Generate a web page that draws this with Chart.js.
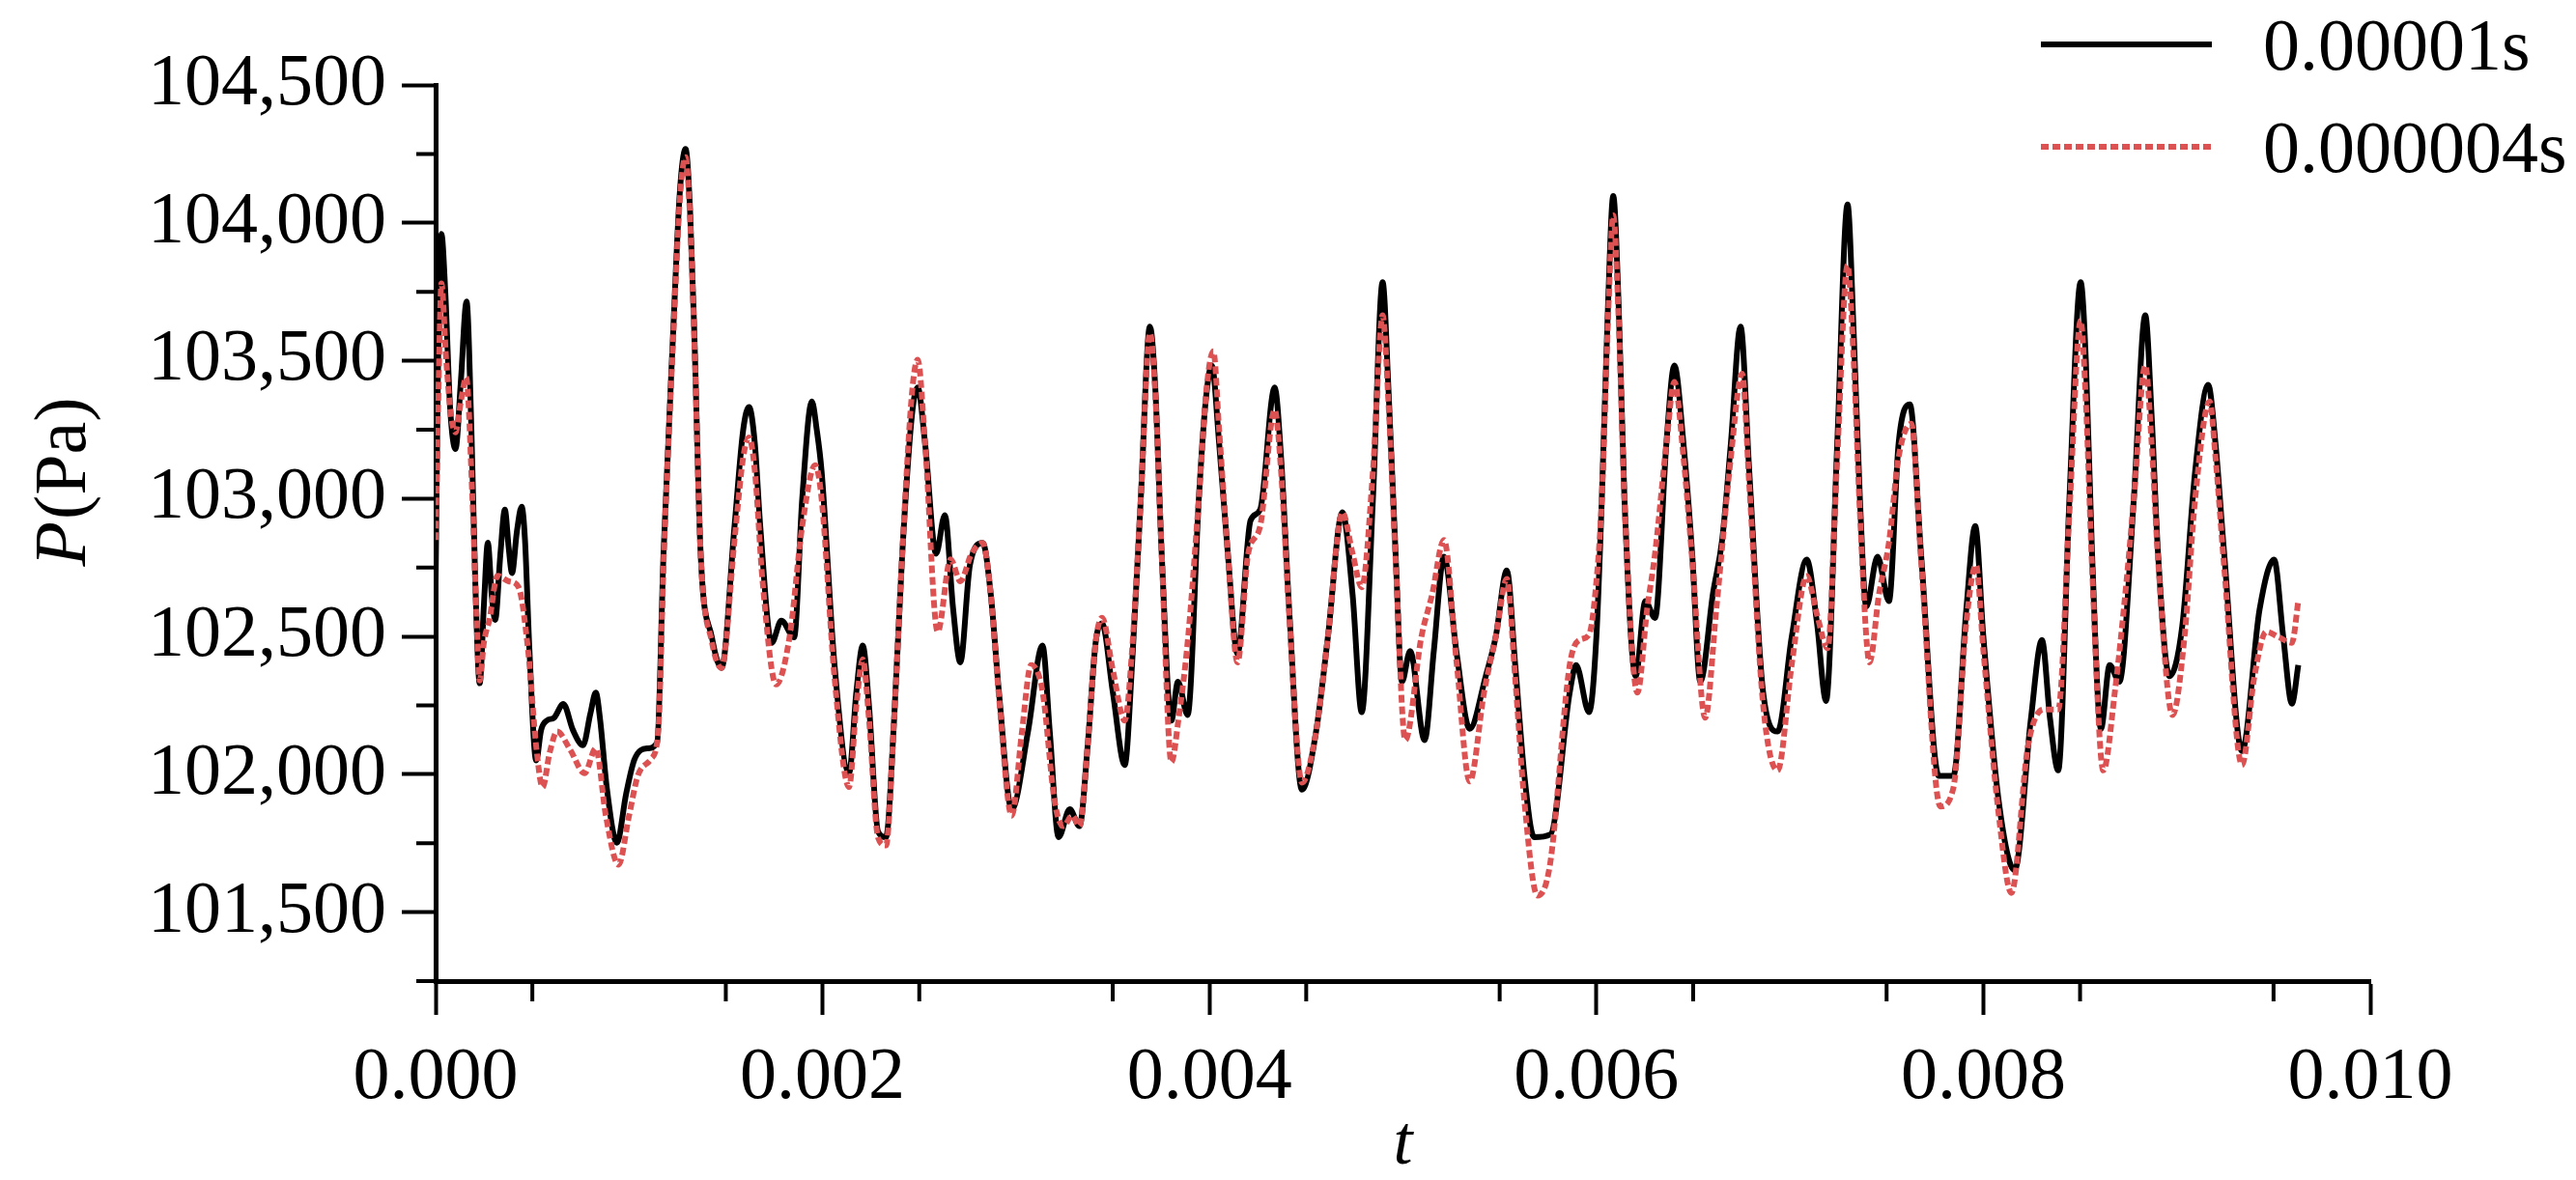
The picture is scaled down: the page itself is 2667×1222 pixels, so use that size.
<!DOCTYPE html>
<html>
<head>
<meta charset="utf-8">
<script src="https://cdn.jsdelivr.net/npm/chart.js@4.4.1/dist/chart.umd.min.js"></script>
<style>
  html, body { margin: 0; padding: 0; background: #fff; }
  #wrap { width: 2667px; height: 1222px; }
</style>
</head>
<body>
<div id="wrap"><canvas id="chart" width="2667" height="1222"></canvas></div>
<script>
// time step 0.00001s (black solid) - t in ms, P in Pa
const tCoarse = [
  0.000, 0.012, 0.030, 0.050, 0.075, 0.103, 0.130, 0.160, 0.185, 0.205,
  0.228, 0.250, 0.270, 0.290, 0.308, 0.335, 0.358, 0.378, 0.395, 0.420,
  0.445, 0.462, 0.485, 0.520, 0.545, 0.575, 0.612, 0.660, 0.710, 0.762,
  0.800, 0.828, 0.850, 0.885, 0.937, 0.985, 1.028, 1.095, 1.145, 1.178,
  1.228, 1.262, 1.292, 1.315, 1.337, 1.370, 1.428, 1.478, 1.545, 1.590,
  1.620, 1.650, 1.678, 1.737, 1.787, 1.853, 1.895, 1.945, 1.970, 1.995,
  2.062, 2.137, 2.175, 2.208, 2.240, 2.287, 2.328, 2.370, 2.412, 2.462,
  2.492, 2.530, 2.587, 2.632, 2.675, 2.712, 2.762, 2.828, 2.870, 2.912,
  2.978, 3.062, 3.137, 3.175, 3.220, 3.278, 3.328, 3.370, 3.412, 3.445,
  3.500, 3.562, 3.600, 3.645, 3.692, 3.720, 3.753, 3.803, 3.837, 3.887,
  3.945, 3.980, 4.012, 4.050, 4.095, 4.145, 4.212, 4.262, 4.337, 4.370,
  4.412, 4.478, 4.550, 4.612, 4.687, 4.740, 4.787, 4.845, 4.895, 4.925,
  4.962, 4.995, 5.037, 5.112, 5.160, 5.212, 5.278, 5.345, 5.428, 5.480,
  5.537, 5.580, 5.628, 5.678, 5.762, 5.862, 5.895, 5.962, 6.000, 6.028,
  6.060, 6.087, 6.115, 6.145, 6.203, 6.253, 6.303, 6.362, 6.403, 6.450,
  6.495, 6.537, 6.603, 6.650, 6.695, 6.745, 6.790, 6.862, 6.937, 7.010,
  7.087, 7.140, 7.187, 7.245, 7.298, 7.330, 7.362, 7.395, 7.453, 7.512,
  7.562, 7.620, 7.678, 7.770, 7.845, 7.912, 7.958, 8.000, 8.080, 8.162,
  8.245, 8.303, 8.345, 8.387, 8.445, 8.503, 8.530, 8.562, 8.608, 8.653,
  8.703, 8.778, 8.837, 8.870, 8.903, 8.962, 9.028, 9.095, 9.162, 9.200,
  9.245, 9.337, 9.428, 9.503, 9.550, 9.595, 9.628
];
const pCoarse = [
  102690, 103450, 103960, 103750, 103330, 103180, 103420, 103715, 103250, 102700,
  102330, 102620, 102840, 102650, 102560, 102800, 102960, 102820, 102730, 102880,
  102970, 102850, 102450, 102050, 102160, 102195, 102205, 102255, 102160, 102105,
  102220, 102296, 102200, 101950, 101752, 101930, 102054, 102094, 102115, 102800,
  103605, 104107, 104268, 104050, 103605, 102800, 102497, 102386, 102900, 103250,
  103332, 103200, 102900, 102477, 102557, 102497, 103000, 103352, 103250, 103100,
  102396, 102004, 102300, 102467, 102250, 101792, 101772, 102200, 102800, 103302,
  103403, 103200, 102800, 102940, 102600, 102406, 102760, 102839, 102650, 102296,
  101873, 102155, 102467, 102150, 101772, 101873, 101812, 102100, 102480, 102547,
  102300, 102034, 102400, 103000, 103624, 103400, 102800, 102195, 102336, 102215,
  103000, 103350, 103483, 103200, 102800, 102437, 102920, 102960, 103403, 103150,
  102598, 101944, 102150, 102497, 102950, 102650, 102225, 103000, 103785, 103400,
  102800, 102336, 102447, 102124, 102450, 102789, 102437, 102165, 102356, 102500,
  102739, 102400, 101994, 101772, 101782, 102296, 102396, 102225, 102500, 103000,
  103700, 104097, 103700, 103000, 102356, 102628, 102567, 103202, 103483, 103200,
  102800, 102336, 102658, 102850, 103200, 103624, 103100, 102296, 102155, 102500,
  102779, 102550, 102266, 103202, 104067, 103600, 103000, 102608, 102789, 102628,
  103200, 103342, 102800, 101994, 101994, 102598, 102900, 102500, 101900, 101652,
  102195, 102487, 102200, 102014, 103000, 103785, 103500, 102800, 102165, 102396,
  102336, 103000, 103665, 103300, 102800, 102356, 102537, 103100, 103413, 103200,
  102800, 102084, 102598, 102779, 102500, 102256, 102396
];

// time step 0.000004s (red dotted)
const tFine = [
  0.000, 0.015, 0.030, 0.055, 0.080, 0.103, 0.130, 0.158, 0.190, 0.210,
  0.228, 0.250, 0.278, 0.320, 0.378, 0.428, 0.478, 0.520, 0.553, 0.590,
  0.628, 0.695, 0.770, 0.828, 0.880, 0.945, 1.000, 1.045, 1.112, 1.150,
  1.180, 1.228, 1.262, 1.292, 1.315, 1.337, 1.370, 1.428, 1.478, 1.545,
  1.590, 1.620, 1.650, 1.690, 1.760, 1.830, 1.895, 1.962, 1.995, 2.062,
  2.137, 2.175, 2.208, 2.240, 2.287, 2.328, 2.370, 2.412, 2.462, 2.492,
  2.530, 2.595, 2.662, 2.712, 2.770, 2.828, 2.870, 2.912, 2.978, 3.030,
  3.078, 3.137, 3.200, 3.245, 3.290, 3.328, 3.370, 3.412, 3.445, 3.500,
  3.562, 3.600, 3.645, 3.692, 3.720, 3.753, 3.803, 3.840, 3.890, 3.945,
  3.985, 4.020, 4.050, 4.095, 4.145, 4.200, 4.262, 4.337, 4.370, 4.412,
  4.478, 4.550, 4.612, 4.687, 4.740, 4.787, 4.845, 4.895, 4.925, 4.962,
  5.012, 5.095, 5.150, 5.212, 5.278, 5.345, 5.420, 5.480, 5.537, 5.580,
  5.628, 5.695, 5.760, 5.862, 5.912, 5.962, 6.000, 6.028, 6.060, 6.087,
  6.115, 6.145, 6.212, 6.262, 6.303, 6.362, 6.403, 6.450, 6.495, 6.562,
  6.620, 6.695, 6.753, 6.790, 6.862, 6.937, 7.010, 7.087, 7.140, 7.195,
  7.245, 7.298, 7.330, 7.362, 7.412, 7.460, 7.512, 7.562, 7.628, 7.678,
  7.778, 7.845, 7.912, 7.962, 8.000, 8.080, 8.145, 8.230, 8.312, 8.387,
  8.445, 8.503, 8.530, 8.562, 8.620, 8.680, 8.740, 8.778, 8.837, 8.870,
  8.903, 8.978, 9.040, 9.095, 9.170, 9.200, 9.245, 9.337, 9.400, 9.462,
  9.528, 9.595, 9.628
];
const pFine = [
  102850, 103400, 103780, 103500, 103300, 103240, 103350, 103440, 103000, 102600,
  102340, 102480, 102560, 102720, 102700, 102680, 102450, 102100, 101953, 102080,
  102155, 102090, 102004, 102094, 101850, 101672, 101850, 101994, 102054, 102150,
  102800, 103580, 104080, 104238, 104020, 103580, 102800, 102480, 102386, 102850,
  103150, 103222, 103100, 102700, 102326, 102500, 102900, 103121, 103000, 102350,
  101954, 102250, 102417, 102200, 101770, 101742, 102200, 102800, 103380, 103504,
  103200, 102517, 102780, 102700, 102800, 102839, 102650, 102280, 101850, 102150,
  102396, 102300, 101900, 101812, 101850, 101812, 102100, 102480, 102568, 102380,
  102195, 102450, 103000, 103600, 103380, 102800, 102044, 102200, 102500, 103000,
  103400, 103534, 103250, 102800, 102406, 102800, 102900, 103322, 103100, 102580,
  101970, 102150, 102497, 102950, 102800, 102678, 103100, 103665, 103350, 102780,
  102124, 102497, 102650, 102850, 102400, 101974, 102300, 102500, 102709, 102350,
  101900, 101560, 101672, 102396, 102487, 102507, 102700, 103000, 103650, 104027,
  103650, 103000, 102296, 102598, 102800, 103200, 103423, 103150, 102780, 102205,
  102600, 103150, 103453, 103050, 102250, 102014, 102400, 102719, 102580, 102457,
  103150, 103846, 103500, 102950, 102406, 102650, 102840, 103150, 103272, 102780,
  101883, 101950, 102550, 102759, 102450, 101850, 101570, 102100, 102235, 102235,
  102950, 103645, 103350, 102750, 102014, 102300, 102700, 103000, 103483, 103200,
  102780, 102215, 102500, 103000, 103352, 103150, 102750, 102034, 102350, 102517,
  102497, 102477, 102628
];

const seriesNames = ['0.00001s', '0.000004s'];
const yMin = 101250, yMax = 104500, yStep = 250;
const xMin = 0, xMax = 0.010, xStep = 0.0005;

const FONT = "'Liberation Serif', 'Times New Roman', serif";
const RED = 'rgb(220, 82, 82)';
const RED_DASH = [8, 4];

function toPoints(ts, ps) {
    return ts.map((t, i) => ({ x: t / 1000, y: ps[i] }));
}

function withCommas(v) {
    return String(v).replace(/\B(?=(\d{3})+(?!\d))/g, ',');
}

function isMajorX(v) { return Math.round(v / xStep) % 4 === 0; }
function isMajorY(v) { return v % 500 === 0; }

// short minor ticks, italic axis title and the legend
const extrasPlugin = {
    id: 'extras',
    afterDraw(chart) {
        const { ctx, chartArea, scales } = chart;
        ctx.save();
        ctx.strokeStyle = '#000';
        ctx.lineWidth = 4;
        ctx.beginPath();
        for (let v = yMin; v <= yMax; v += yStep) {
            if (isMajorY(v)) continue;
            const py = scales.y.getPixelForValue(v);
            ctx.moveTo(chartArea.left - 20, py);
            ctx.lineTo(chartArea.left, py);
        }
        for (let k = 1; k < 20; k += 2) {
            const px = scales.x.getPixelForValue(k * xStep);
            ctx.moveTo(px, chartArea.bottom);
            ctx.lineTo(px, chartArea.bottom + 21);
        }
        ctx.stroke();

        // y axis title: italic P + (Pa)
        ctx.translate(68, 500);
        ctx.rotate(-Math.PI / 2);
        ctx.textBaseline = 'middle';
        ctx.fillStyle = '#000';
        ctx.font = `italic 76px ${FONT}`;
        const wP = ctx.measureText('P').width;
        ctx.font = `76px ${FONT}`;
        const wRest = ctx.measureText('(Pa)').width;
        let x0 = -(wP + wRest) / 2;
        ctx.font = `italic 76px ${FONT}`;
        ctx.fillText('P', x0, 0);
        ctx.font = `76px ${FONT}`;
        ctx.fillText('(Pa)', x0 + wP + 2, 0);
        ctx.restore();

        // legend
        ctx.save();
        const rows = [
            { y: 46, color: '#000', width: 6, dash: [] },
            { y: 152, color: RED, width: 6, dash: RED_DASH }
        ];
        rows.forEach((r, i) => {
            ctx.beginPath();
            ctx.strokeStyle = r.color;
            ctx.lineWidth = r.width;
            ctx.setLineDash(r.dash);
            ctx.moveTo(2113, r.y);
            ctx.lineTo(2290, r.y);
            ctx.stroke();
            ctx.setLineDash([]);
            ctx.fillStyle = '#000';
            ctx.font = `76px ${FONT}`;
            ctx.textBaseline = 'middle';
            ctx.fillText(seriesNames[i], 2343, r.y + 6);
        });
        ctx.restore();
    }
};

const chart = new Chart(document.getElementById('chart'), {
    type: 'line',
    data: {
        datasets: [
            {
                label: seriesNames[0],
                data: toPoints(tCoarse, pCoarse),
                borderColor: '#000',
                borderWidth: 6,
                pointRadius: 0,
                cubicInterpolationMode: 'monotone',
                order: 2
            },
            {
                label: seriesNames[1],
                data: toPoints(tFine, pFine),
                borderColor: RED,
                borderWidth: 6,
                borderDash: RED_DASH,
                pointRadius: 0,
                cubicInterpolationMode: 'monotone',
                order: 1
            }
        ]
    },
    options: {
        responsive: false,
        animation: false,
        devicePixelRatio: 1,
        layout: { padding: { left: 0, top: 88, right: 213, bottom: 0 } },
        plugins: {
            legend: { display: false },
            tooltip: { enabled: false }
        },
        scales: {
            x: {
                type: 'linear',
                min: xMin,
                max: xMax,
                afterFit: (scale) => { scale.height = 206; },
                border: { display: true, color: '#000', width: 5 },
                grid: {
                    drawOnChartArea: false,
                    drawTicks: true,
                    tickLength: 35,
                    tickWidth: 4,
                    tickColor: (c) => (c.tick && isMajorX(c.tick.value) ? '#000' : 'rgba(0,0,0,0)')
                },
                ticks: {
                    stepSize: xStep,
                    autoSkip: false,
                    maxRotation: 0,
                    padding: 20,
                    color: '#000',
                    font: { family: FONT, size: 76 },
                    callback: (v) => (isMajorX(v) ? v.toFixed(3) : '')
                },
                title: {
                    display: true,
                    text: 't',
                    color: '#000',
                    padding: 0,
                    font: { family: FONT, size: 72, style: 'italic', lineHeight: 1 }
                }
            },
            y: {
                min: yMin,
                max: yMax,
                afterFit: (scale) => { scale.width = 451; },
                border: { display: true, color: '#000', width: 5 },
                grid: {
                    drawOnChartArea: false,
                    drawTicks: true,
                    tickLength: 35,
                    tickWidth: 4,
                    tickColor: (c) => (c.tick && isMajorY(c.tick.value) ? '#000' : 'rgba(0,0,0,0)')
                },
                ticks: {
                    stepSize: yStep,
                    autoSkip: false,
                    padding: 16,
                    color: '#000',
                    font: { family: FONT, size: 76 },
                    callback: (v) => (isMajorY(v) ? withCommas(v) : '')
                }
            }
        }
    },
    plugins: [extrasPlugin]
});
</script>
</body>
</html>
